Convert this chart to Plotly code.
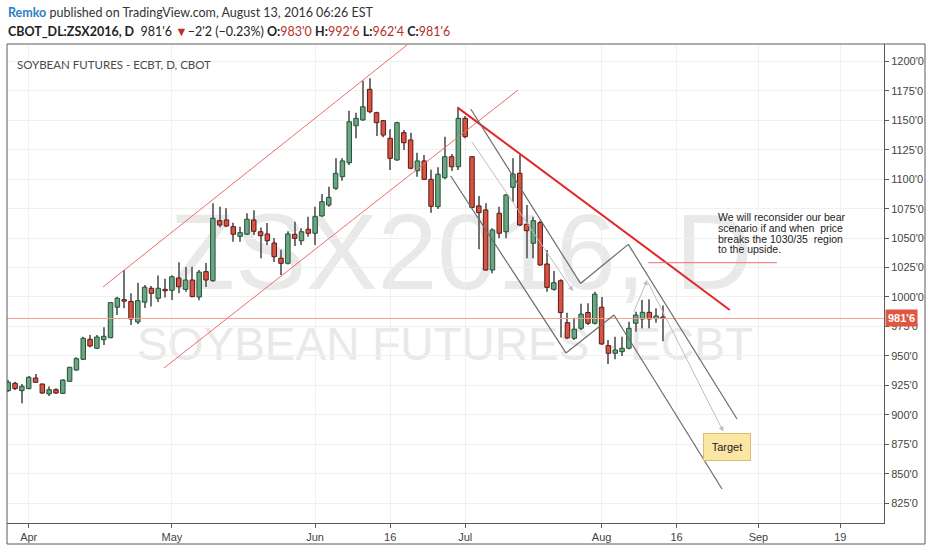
import plotly.graph_objects as go
import pandas as pd

# ---------------- data ----------------
opens = [920.5, 926.7, 920.5, 922.2, 931.2, 926.1, 917.7, 921.3, 918.2, 928.4,
         938.0, 947.1, 964.1, 956.5, 963.8, 965.4, 991.3, 997.7, 996.2, 978.8,
         995.6, 1007.4, 998.9, 1006.5, 1005.7, 1016.1, 1006.5, 1014.4, 1000.0, 1021.5,
         1013.8, 1064.8, 1065.4, 1059.7, 1051.5, 1053.3, 1065.4, 1055.4, 1053.5, 1045.8,
         1032.9, 1028.6, 1053.2, 1047.8, 1057.5, 1054.1, 1068.8, 1078.1, 1092.3, 1102.1,
         1114.0, 1145.4, 1150.3, 1176.3, 1156.5, 1149.7, 1134.7, 1116.3, 1139.5, 1133.3,
         1107.2, 1115.5, 1099.9, 1076.7, 1101.3, 1119.1, 1110.6, 1151.7, 1119.1, 1077.3,
         1073.9, 1022.9, 1071.1, 1055.4, 1093.1, 1105.0, 1061.7, 1045.6, 1063.2, 1028.0,
         1006.5, 1013.8, 978.2, 964.9, 973.4, 986.8, 977.7, 991.3, 958.7, 952.2,
         953.6, 956.5, 977.7, 981.3, 987.0, 981.6, 983.0]
highs = [929.5, 928.1, 926.1, 932.9, 934.6, 926.5, 923.9, 922.5, 930.1, 940.8,
         948.8, 966.3, 967.7, 967.7, 974.3, 995.8, 1000.3, 1022.9, 1003.1, 1012.1,
         1010.2, 1009.3, 1018.3, 1015.5, 1018.5, 1029.5, 1025.5, 1025.7, 1022.9, 1028.9,
         1079.5, 1076.7, 1075.3, 1063.1, 1059.7, 1071.1, 1073.6, 1059.0, 1062.8, 1050.1,
         1040.2, 1055.9, 1063.9, 1058.3, 1068.2, 1076.7, 1087.4, 1093.6, 1117.7, 1117.7,
         1158.2, 1156.5, 1183.6, 1185.7, 1157.3, 1150.3, 1142.4, 1148.8, 1141.8, 1139.5,
         1122.5, 1120.5, 1108.1, 1110.1, 1136.1, 1121.4, 1160.6, 1153.7, 1119.5, 1085.7,
         1079.5, 1058.3, 1076.7, 1087.4, 1117.7, 1120.5, 1078.1, 1068.2, 1064.8, 1039.9,
         1022.1, 1015.0, 986.7, 982.3, 994.3, 994.7, 1004.5, 1000.0, 963.5, 966.3,
         966.3, 979.0, 987.5, 997.5, 998.0, 990.4, 992.75]
lows = [919.4, 921.1, 909.8, 921.6, 927.0, 917.7, 916.0, 917.7, 917.7, 928.1,
        937.4, 946.5, 957.3, 955.9, 959.3, 964.9, 984.7, 990.4, 976.2, 977.1,
        990.7, 991.9, 995.8, 999.6, 997.5, 1003.1, 1004.5, 999.7, 997.2, 1008.5,
        1013.0, 1059.2, 1059.2, 1046.9, 1046.9, 1052.6, 1052.6, 1032.9, 1044.1, 1029.7,
        1018.7, 1027.6, 1043.3, 1044.1, 1051.2, 1044.1, 1068.2, 1076.7, 1090.8, 1098.7,
        1112.1, 1134.7, 1149.7, 1155.9, 1136.7, 1135.6, 1107.8, 1115.7, 1124.8, 1108.4,
        1102.1, 1099.3, 1071.6, 1074.7, 1099.9, 1107.0, 1107.8, 1134.7, 1075.3, 1040.5,
        1022.3, 1020.1, 1049.8, 1049.8, 1080.9, 1060.3, 1032.9, 1032.9, 1026.6, 1004.5,
        1005.3, 965.6, 964.3, 963.5, 972.0, 976.2, 976.7, 959.3, 943.1, 947.1,
        949.9, 955.6, 970.5, 973.4, 973.4, 978.2, 962.5]
closes = [927.6, 922.2, 924.2, 931.8, 927.6, 918.5, 921.3, 918.5, 929.5, 940.3,
          947.6, 964.9, 958.4, 966.0, 966.6, 995.2, 998.9, 996.5, 981.3, 996.9,
          1008.3, 1003.1, 1007.4, 1005.3, 1017.2, 1008.7, 1014.4, 1000.3, 1021.1, 1014.4,
          1066.8, 1061.1, 1060.3, 1053.3, 1054.6, 1066.0, 1055.8, 1052.0, 1047.8, 1034.2,
          1028.6, 1053.5, 1049.8, 1055.4, 1054.1, 1068.2, 1080.9, 1084.6, 1105.0, 1115.5,
          1148.8, 1151.7, 1161.5, 1157.3, 1148.0, 1137.5, 1117.7, 1148.0, 1131.0, 1109.3,
          1115.5, 1099.9, 1077.0, 1104.2, 1119.1, 1110.6, 1151.7, 1136.1, 1076.1, 1071.6,
          1022.9, 1056.9, 1054.1, 1086.6, 1104.4, 1061.1, 1056.3, 1064.8, 1027.2, 1008.2,
          1012.1, 986.7, 965.2, 972.6, 985.4, 977.7, 1002.4, 960.1, 952.2, 955.0,
          956.5, 973.4, 984.7, 987.0, 981.3, 983.9, 981.75]

first_session = "2016-03-29"
exchange_holidays = ["2016-05-30", "2016-07-04"]
last_axis_day = "2016-10-14"

tick_dates = ["2016-04-01", "2016-05-02", "2016-06-01", "2016-06-16", "2016-07-01",
              "2016-08-01", "2016-08-16", "2016-09-01", "2016-09-19"]
tick_labels = ["Apr", "May", "Jun", "16", "Jul", "Aug", "16", "Sep", "19"]

price_ticks = [825, 850, 875, 900, 925, 950, 975, 1000, 1025, 1050, 1075, 1100, 1125,
               1150, 1175, 1200]
price_tick_labels = ["825'0", "850'0", "875'0", "900'0", "925'0", "950'0", "975'0",
                     "1000'0", "1025'0", "1050'0", "1075'0", "1100'0", "1125'0",
                     "1150'0", "1175'0", "1200'0"]
last_price = 981.75
last_price_label = "981'6"

# drawings: (bar position, price) anchor points
up_upper = [(13.9, 1008.5), (58.47, 1213.9)]
up_lower = [(22.84, 939.7), (74.75, 1175.7)]
down_trend = [(65.85, 1161.0), (105.8, 989.0)]
resistance = [(93.85, 1029.1), (112.7, 1029.1)]
zig_upper = [(67.81, 1159.6), (83.91, 1011.5), (90.92, 1044.7), (106.86, 896.4)]
zig_lower = [(64.88, 1102.7), (81.78, 952.5), (88.82, 984.7), (104.66, 837.0)]
proj_arrows = [((67.81, 1133.3), (82.81, 1005.1)),
               ((91.65, 986.2), (93.70, 1014.4)),
               ((93.70, 1013.6), (104.85, 885.7))]
target_pos = (105.39, 872.7)
note_pos = 103.92
note_lines = ["We will reconsider our bear", "scenario if and when  price",
              "breaks the 1030/35  region", "to the upside."]
note_prices = [1067.7, 1058.6, 1049.5, 1040.5]

# ---------------- build ----------------
hol = set(pd.to_datetime(exchange_holidays))
days = [d for d in pd.bdate_range(first_session, last_axis_day) if d not in hol]
pos = {d: i for i, d in enumerate(days)}
tick_vals = [pos[pd.Timestamp(t)] for t in tick_dates]
n = len(opens)
xs = list(range(n))

UP_FILL, UP_LINE = "#6ba583", "#225437"
DN_FILL, DN_LINE = "#d75442", "#5b1a13"
up = [c >= o for o, c in zip(opens, closes)]

fig = go.Figure()
# wicks
fig.add_trace(go.Bar(x=xs, base=lows, y=[h - l for h, l in zip(highs, lows)],
                     width=0.15, marker=dict(color="#737375", line=dict(width=0)),
                     hoverinfo="skip", showlegend=False))
# bodies
fig.add_trace(go.Bar(x=xs, base=[min(o, c) for o, c in zip(opens, closes)],
                     y=[max(abs(c - o), 0.6) for o, c in zip(opens, closes)],
                     width=0.66,
                     marker=dict(color=[UP_FILL if u else DN_FILL for u in up],
                                 line=dict(color=[UP_LINE if u else DN_LINE for u in up], width=1)),
                     customdata=list(zip(opens, highs, lows, closes)),
                     hovertemplate="O %{customdata[0]} H %{customdata[1]} L %{customdata[2]} C %{customdata[3]}<extra></extra>",
                     showlegend=False))

L, R, T, B = 7, 48, 44, 27
W, H = 932, 550
PW, PH = W - L - R, H - T - B


def pxx(px):
    return (px - L) / PW


def pxy(py):
    return (H - B - py) / PH


shapes = []
# watermark (between gridlines and candles)
for txt, cx, cy, size in [("ZSX2016, D", 461, 242, 107), ("SOYBEAN FUTURES - ECBT", 445, 340, 46)]:
    shapes.append(dict(type="rect", xref="paper", yref="paper",
                       x0=pxx(cx) - 0.2, x1=pxx(cx) + 0.2, y0=pxy(cy) - 0.05, y1=pxy(cy) + 0.05,
                       line=dict(width=0), fillcolor="rgba(0,0,0,0)", layer="between",
                       label=dict(text=txt, textposition="middle center",
                                  font=dict(family="Liberation Sans", size=size, color="#e9e9e9"))))
# last price line
shapes.append(dict(type="line", xref="paper", yref="y", x0=0, x1=1, y0=last_price, y1=last_price,
                   line=dict(color="#f2a093", width=1), layer="above"))


def seg_shapes(pts, color, width):
    out = []
    for (x0, y0), (x1, y1) in zip(pts[:-1], pts[1:]):
        out.append(dict(type="line", xref="x", yref="y", x0=x0, y0=y0, x1=x1, y1=y1,
                        line=dict(color=color, width=width)))
    return out


shapes += seg_shapes(up_upper, "#f26a6a", 1)
shapes += seg_shapes(up_lower, "#f26a6a", 1)
shapes += seg_shapes(down_trend, "#e3262a", 2)
shapes += seg_shapes(resistance, "#f26a6a", 1)
shapes += seg_shapes(zig_upper, "#6b6b6b", 1.2)
shapes += seg_shapes(zig_lower, "#6b6b6b", 1.2)
# outer frame
shapes.append(dict(type="rect", xref="paper", yref="paper", x0=0, x1=pxx(925),
                   y0=pxy(544), y1=1, line=dict(color="#5a5a5a", width=1)))

ann = []
for (a0, a1) in proj_arrows:
    ann.append(dict(x=a1[0], y=a1[1], ax=a0[0], ay=a0[1], xref="x", yref="y", axref="x", ayref="y",
                    text="", showarrow=True, arrowhead=2, arrowsize=1, arrowwidth=1,
                    arrowcolor="#bdbdbd"))
ann.append(dict(x=target_pos[0], y=target_pos[1], xref="x", yref="y", text="Target",
                showarrow=False, bgcolor="#fbe6a4", bordercolor="#d8bf72", borderwidth=1,
                width=40, height=20, borderpad=3,
                font=dict(family="Liberation Sans", size=11, color="#222")))
for t, p in zip(note_lines, note_prices):
    ann.append(dict(x=note_pos, y=p, xref="x", yref="y", text=t, showarrow=False,
                    xanchor="left", yanchor="middle", borderpad=0,
                    font=dict(family="Liberation Sans", size=10.5, color="#222")))
# last price tag
ann.append(dict(x=1, y=last_price, xref="paper", yref="y", text="<b>" + last_price_label + "</b>",
                showarrow=False, xanchor="left", yanchor="middle", xshift=1,
                bgcolor="#e2553f", borderpad=2,
                font=dict(family="Liberation Sans", size=11, color="#ffffff")))
# chart title
ann.append(dict(x=pxx(15), y=pxy(64), xref="paper", yref="paper",
                text="SOYBEAN FUTURES - ECBT, D, CBOT", showarrow=False,
                xanchor="left", yanchor="middle",
                font=dict(family="Lato", size=11.5, color="#4a4a4a")))
# header
ann.append(dict(x=pxx(6), y=pxy(12.5), xref="paper", yref="paper",
                text="<span style='color:#2b7fc4'><b>Remko</b></span> published on TradingView.com, August 13, 2016 06:26 EST",
                showarrow=False, xanchor="left", yanchor="middle",
                font=dict(family="Lato", size=12.5, color="#333")))
red = "#b5302a"
hdr2 = ("<b>CBOT_DL:ZSX2016, D</b>  981'6 <span style='color:#c62828'>▼</span>−2'2 (−0.23%) "
        f"<b>O:</b><span style='color:{red}'>983'0</span> "
        f"<b>H:</b><span style='color:{red}'>992'6</span> "
        f"<b>L:</b><span style='color:{red}'>962'4</span> "
        f"<b>C:</b><span style='color:{red}'>981'6</span>")
ann.append(dict(x=pxx(6), y=pxy(31), xref="paper", yref="paper", text=hdr2,
                showarrow=False, xanchor="left", yanchor="middle",
                font=dict(family="Lato", size=12.5, color="#222")))

fig.update_layout(
    width=W, height=H, margin=dict(l=L, r=R, t=T, b=B, pad=0),
    paper_bgcolor="#ffffff", plot_bgcolor="#ffffff",
    barmode="overlay", showlegend=False,
    shapes=shapes, annotations=ann,
    xaxis=dict(range=[-0.18, 128.41], tickvals=tick_vals, ticktext=tick_labels,
               showgrid=True, gridcolor="#f0f0f0", zeroline=False,
               showline=True, linecolor="#5a5a5a", ticks="outside", ticklen=4,
               tickcolor="#5a5a5a",
               tickfont=dict(family="Liberation Sans", size=11, color="#444")),
    yaxis=dict(range=[808.1, 1214.8], side="right", tickvals=price_ticks,
               ticktext=price_tick_labels, showgrid=True, gridcolor="#f0f0f0",
               zeroline=False, showline=True, linecolor="#5a5a5a", ticks="outside",
               ticklen=4, tickcolor="#5a5a5a",
               tickfont=dict(family="Liberation Sans", size=11, color="#444")),
)

fig.write_html("out.html", config={"displayModeBar": False},
               post_script="document.body.style.margin='0';document.body.style.overflow='hidden';")
